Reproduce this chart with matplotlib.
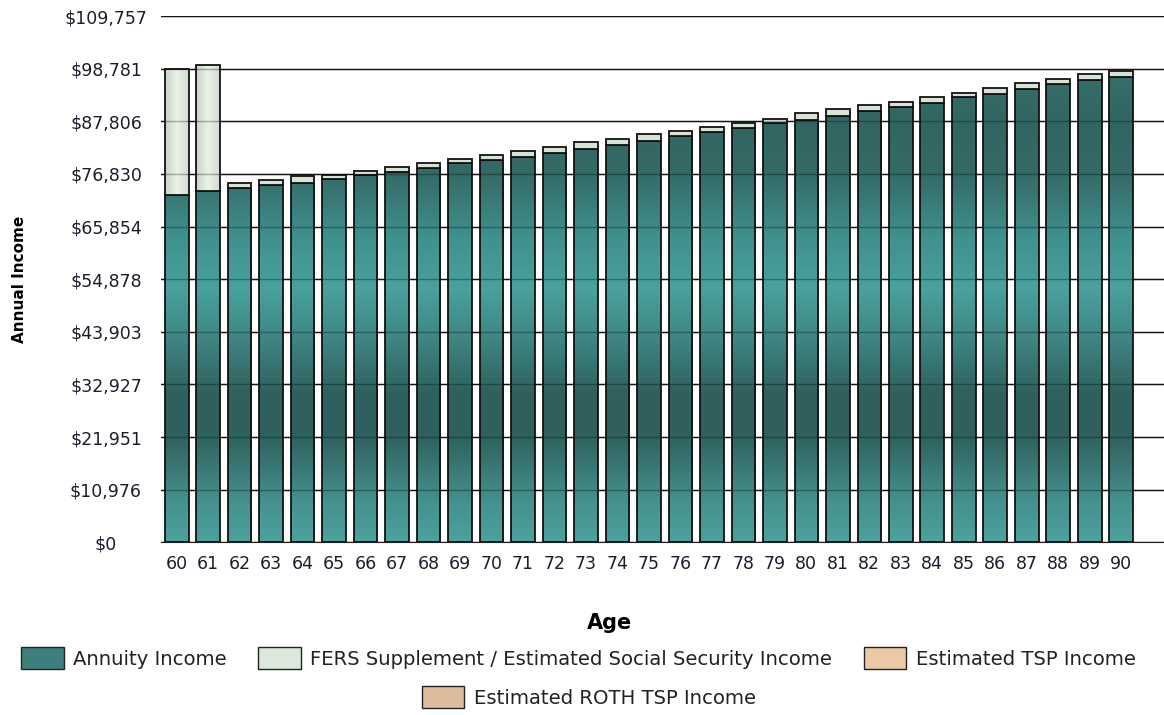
import numpy as np
import matplotlib.pyplot as plt
import matplotlib.patches as mpatches
from matplotlib.colors import LinearSegmentedColormap

# Annual income by age (USD)
ages = list(range(60, 91))
annuity = [72430, 73320, 73820, 74600, 74930, 75820, 76600, 77290, 78160, 79040,
           79810, 80410, 81250, 82020, 82790, 83690, 84790, 85630, 86460, 87380,
           88070, 89000, 89940, 90720, 91550, 92800, 93490, 94470, 95510, 96410,
           97030]
supplement = [26280, 26280, 1040, 1040, 1520, 730, 830, 1020, 940, 860,
              880, 1190, 1090, 1400, 1420, 1400, 1020, 1040, 1080, 900,
              1400, 1360, 1250, 1170, 1380, 960, 1190, 1250, 1110, 1190,
              1310]
tsp = [0] * len(ages)
roth_tsp = [0] * len(ages)

y_ticks = [0, 10976, 21951, 32927, 43903, 54878, 65854, 76830, 87806, 98781, 109757]
y_top = 109757

fig = plt.figure(figsize=(11.64, 7.15), dpi=100)
ax = fig.add_axes([0.1383, 0.2415, 0.8617, 0.7361])

bar_w = 0.75
ann_bars = ax.bar(ages, annuity, width=bar_w, color='none',
                  edgecolor='#111111', linewidth=1.3, zorder=3)
sup_bars = ax.bar(ages, supplement, width=bar_w, bottom=annuity,
                  color='#d8e3d7', edgecolor='#111111', linewidth=1.3, zorder=3)
base = np.array(annuity) + np.array(supplement)
ax.bar(ages, tsp, width=bar_w, bottom=base, color='#ebc9a6', linewidth=0, zorder=3)
ax.bar(ages, roth_tsp, width=bar_w, bottom=base + np.array(tsp),
       color='#ddbb9c', linewidth=0, zorder=3)

# banded teal shading for the annuity bars
teal = LinearSegmentedColormap.from_list('teal', [
    (0.00, '#4ca29e'), (0.08, '#448f8b'), (0.20, '#2f615e'), (0.28, '#2f605d'),
    (0.38, '#3d8480'), (0.48, '#4aa19d'), (0.58, '#40908c'), (0.70, '#346a67'),
    (0.80, '#316562'), (0.90, '#37706c'), (1.00, '#3c7a76')])
grad = np.linspace(0, 1, 256).reshape(-1, 1)
for b in ann_bars:
    im = ax.imshow(grad, extent=(59, 92, 0, y_top), origin='lower',
                   aspect='auto', cmap=teal, zorder=2.5)
    im.set_clip_path(b)

# pale shading for the supplement bars
pale = LinearSegmentedColormap.from_list('pale', ['#c6d4c6', '#eaf2e8', '#cfdccf'])
grad_h = np.linspace(0, 1, 64).reshape(1, -1)
for b in sup_bars:
    if b.get_height() > 5000:
        x0 = b.get_x()
        im = ax.imshow(grad_h, extent=(x0, x0 + bar_w, 0, y_top),
                       aspect='auto', cmap=pale, zorder=3.2)
        im.set_clip_path(b)
        b.set_zorder(3.5)
        b.set_facecolor('none')

ax.set_xlim(59.5, 91.36)
ax.set_ylim(0, y_top)

ax.set_yticks(y_ticks)
ax.set_yticklabels([f'${v:,}' for v in y_ticks], ha='center')
ax.set_xticks(ages)
ax.tick_params(axis='y', length=0, pad=39.6, labelsize=12.5, labelcolor='#1c1c2e')
ax.tick_params(axis='x', length=0, pad=9, labelsize=12.5, labelcolor='#1c1c2e')

ax.set_axisbelow(True)
ax.grid(axis='y', color='#1e1e1e', linewidth=1)
ax.hlines(y_ticks[1:], 59.5, 91.36, colors='black', linewidth=1, alpha=0.3, zorder=4)

for s in ['left', 'right', 'top']:
    ax.spines[s].set_visible(False)
ax.spines['bottom'].set_color('#1e1e1e')
ax.spines['bottom'].set_zorder(5)

ax.set_ylabel('Annual Income', fontsize=11, fontweight='bold')
ax.yaxis.set_label_coords(-0.1336, 0.5)
ax.set_xlabel('Age', fontsize=15, fontweight='bold')
ax.xaxis.set_label_coords(0.4475, -0.134)

h1 = mpatches.Patch(facecolor='#3c7f7b', edgecolor='#222222', label='Annuity Income')
h2 = mpatches.Patch(facecolor='#dde8dc', edgecolor='#222222',
                    label='FERS Supplement / Estimated Social Security Income')
h3 = mpatches.Patch(facecolor='#ebc9a6', edgecolor='#222222', label='Estimated TSP Income')
h4 = mpatches.Patch(facecolor='#ddbb9c', edgecolor='#222222', label='Estimated ROTH TSP Income')

leg_kw = dict(frameon=False, fontsize=14.1, handlelength=2.16, handleheight=1.34,
              handletextpad=0.5, labelcolor='#222222')
fig.legend(handles=[h1, h2, h3], loc='center', bbox_to_anchor=(0.497, 0.0797),
           ncol=3, columnspacing=1.6, **leg_kw)
fig.legend(handles=[h4], loc='center', bbox_to_anchor=(0.506, 0.0252), **leg_kw)

fig.savefig('out.png', dpi=100)
